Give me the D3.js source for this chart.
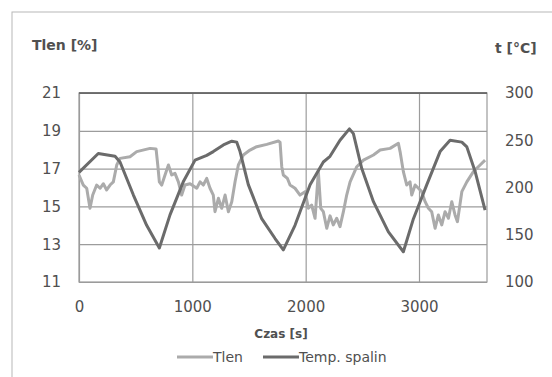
<!DOCTYPE html>
<html>
<head>
<meta charset="utf-8">
<script src="https://cdn.jsdelivr.net/npm/d3@7"></script>
<style>
  body { margin: 0; background: #fff; }
  text { font-family: "DejaVu Sans", sans-serif; fill: #505050; }
</style>
</head>
<body>
<div id="chart"></div>
<script>
// Tlen (oxygen) series, left axis
const tlenTime = [0, 38, 68, 97, 121, 156, 186, 215, 244, 274, 303, 333, 362, 450, 509, 627, 680, 695, 709, 730,
  759, 789, 818, 847, 877, 906, 935, 980, 1039, 1068, 1097, 1127, 1156, 1185, 1200, 1230, 1259, 1289, 1318, 1348,
  1377, 1406, 1450, 1509, 1568, 1657, 1759, 1774, 1789, 1803, 1839, 1862, 1906, 1950, 1995, 2024, 2053, 2083, 2112,
  2133, 2156, 2186, 2215, 2244, 2274, 2303, 2333, 2362, 2392, 2451, 2510, 2598, 2657, 2745, 2818, 2833, 2862, 2892,
  2921, 2936, 2966, 2995, 3024, 3054, 3083, 3112, 3142, 3171, 3201, 3230, 3260, 3289, 3318, 3339, 3378, 3422, 3480,
  3539, 3583];
const tlenValue = [16.66, 16.13, 15.96, 14.9, 15.6, 16.13, 15.96, 16.2, 15.87, 16.13, 16.3, 17.19, 17.54, 17.63, 17.9,
  18.07, 18.04, 17.19, 16.3, 16.13, 16.66, 17.19, 16.66, 16.75, 16.3, 15.6, 16.13, 16.2, 15.96, 16.3, 16.13, 16.48,
  15.96, 15.6, 14.72, 15.43, 14.9, 15.6, 14.72, 15.25, 16.3, 17.19, 17.72, 17.98, 18.16, 18.28, 18.46, 18.4, 17.1,
  16.66, 16.48, 16.13, 15.96, 15.6, 15.78, 14.9, 15.07, 14.37, 16.84, 14.9, 14.72, 13.84, 14.5, 14.02, 14.37, 13.93,
  14.72, 15.6, 16.3, 17.1, 17.45, 17.72, 17.98, 18.07, 18.34, 17.9, 16.84, 16.13, 16.3, 15.6, 16.13, 15.96, 15.78,
  15.25, 14.9, 14.72, 13.84, 14.55, 14.02, 14.72, 14.37, 15.25, 14.55, 14.19, 15.78, 16.3, 16.84, 17.19, 17.45];

// flue gas temperature series, right axis
const tempTime = [0, 170, 318, 362, 480, 597, 709, 803, 920, 1024, 1127, 1185, 1274, 1348, 1392, 1421, 1494, 1612,
  1730, 1803, 1906, 2039, 2156, 2215, 2303, 2386, 2421, 2495, 2598, 2730, 2862, 2951, 3069, 3186, 3274, 3378, 3422,
  3495, 3583];
const tempValue = [216, 236, 233, 227, 192, 160, 136, 171, 206, 229, 234, 238, 245, 249, 248, 238, 203, 167, 146, 134,
  160, 203, 227, 233, 250, 262, 257, 220, 185, 153, 132, 167, 203, 238, 250, 248, 243, 217, 176];

const leftTicks = [11, 13, 15, 17, 19, 21];
const rightTicks = [100, 150, 200, 250, 300];
const timeTicks = [0, 1000, 2000, 3000];
const seriesNames = ["Tlen", "Temp. spalin"];
const seriesColors = ["#ababab", "#6b6b6b"];

const W = 552, H = 377;
const M = { TOP: 93, LEFT: 79, RIGHT: 65, BOTTOM: 95 };
const PW = W - M.LEFT - M.RIGHT;
const PH = H - M.TOP - M.BOTTOM;

const svg = d3.select("#chart").append("svg")
  .attr("width", W).attr("height", H);

// outer chart border (runs off the right / bottom edge)
svg.append("rect")
  .attr("x", 12).attr("y", 12)
  .attr("width", 580).attr("height", 400)
  .attr("fill", "none").attr("stroke", "#b8b8b8").attr("stroke-width", 1);

const g = svg.append("g").attr("transform", `translate(${M.LEFT},${M.TOP})`);

const x = d3.scaleLinear().domain([0, 3600]).range([0, PW]);
const yL = d3.scaleLinear().domain([11, 21]).range([PH, 0]);
const yR = d3.scaleLinear().domain([100, 300]).range([PH, 0]);

// gridlines
const gridY = g.append("g")
  .call(d3.axisLeft(yL).tickValues(leftTicks).tickSize(-PW).tickFormat(""));
const gridX = g.append("g").attr("transform", `translate(0,${PH})`)
  .call(d3.axisBottom(x).tickValues(timeTicks).tickSize(-PH).tickFormat(""));
[gridY, gridX].forEach(a => {
  a.select(".domain").remove();
  a.selectAll("line").attr("stroke", "#9c9c9c").attr("stroke-width", 1.2);
});

// frame
g.append("rect").attr("width", PW).attr("height", PH)
  .attr("fill", "none").attr("stroke", "#9c9c9c").attr("stroke-width", 1.2);
g.append("line").attr("x1", 0).attr("x2", PW).attr("y1", 0).attr("y2", 0)
  .attr("stroke", "#5a5a5a").attr("stroke-width", 1.5);

// tick labels
const axL = g.append("g")
  .call(d3.axisLeft(yL).tickValues(leftTicks).tickSize(0).tickPadding(18));
const axR = g.append("g").attr("transform", `translate(${PW},0)`)
  .call(d3.axisRight(yR).tickValues(rightTicks).tickSize(0).tickPadding(18));
const axB = g.append("g").attr("transform", `translate(0,${PH})`)
  .call(d3.axisBottom(x).tickValues(timeTicks).tickSize(0).tickPadding(19).tickFormat(d3.format("d")));
[axL, axR, axB].forEach(a => {
  a.select(".domain").remove();
  a.selectAll("text").attr("font-size", 15).attr("font-family", "DejaVu Sans").attr("fill", "#505050");
});

// lines
const tlenData = tlenTime.map((t, i) => ({ t, v: tlenValue[i] }));
const tempData = tempTime.map((t, i) => ({ t, v: tempValue[i] }));

g.append("path").datum(tlenData)
  .attr("fill", "none").attr("stroke", seriesColors[0]).attr("stroke-width", 3)
  .attr("stroke-linejoin", "round")
  .attr("d", d3.line().x(d => x(d.t)).y(d => yL(d.v)));

g.append("path").datum(tempData)
  .attr("fill", "none").attr("stroke", seriesColors[1]).attr("stroke-width", 3)
  .attr("stroke-linejoin", "round")
  .attr("d", d3.line().x(d => x(d.t)).y(d => yR(d.v)));

// axis titles
svg.append("text").attr("x", 32).attr("y", 50)
  .attr("font-size", 14).attr("font-weight", "bold").attr("fill", "#454545")
  .text("Tlen [%]");
svg.append("text").attr("x", 495).attr("y", 53)
  .attr("font-size", 14).attr("font-weight", "bold").attr("fill", "#454545")
  .text("t [°C]");
svg.append("text").attr("x", 281).attr("y", 338)
  .attr("text-anchor", "middle")
  .attr("font-size", 12).attr("font-weight", "bold").attr("fill", "#454545")
  .text("Czas [s]");

// legend
const legend = svg.append("g").attr("transform", "translate(177,357)");
const legX = [0, 86];
seriesNames.forEach((name, i) => {
  const lg = legend.append("g").attr("transform", `translate(${legX[i]},0)`);
  lg.append("line").attr("x1", 0).attr("x2", 36).attr("y1", 0).attr("y2", 0)
    .attr("stroke", seriesColors[i]).attr("stroke-width", 3);
  lg.append("text").attr("x", 36).attr("y", 5)
    .attr("font-size", 14).attr("fill", "#505050").text(name);
});
</script>
</body>
</html>
